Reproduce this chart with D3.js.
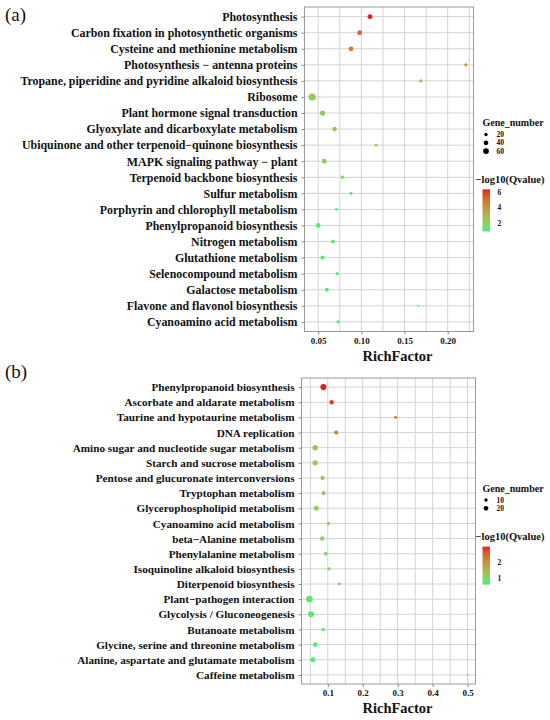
<!DOCTYPE html>
<html>
<head>
<meta charset="utf-8">
<script src="https://cdn.jsdelivr.net/npm/d3@7"></script>
<style>
  body { margin: 0; background: #fff; }
  text { font-family: "Liberation Serif", "Times New Roman", serif; fill: #111; }
  .lab { font-weight: bold; }
</style>
</head>
<body>
<div id="chart"></div>
<script>
// panel (a)
var pathwaysA = ["Photosynthesis", "Carbon fixation in photosynthetic organisms",
  "Cysteine and methionine metabolism", "Photosynthesis \u2212 antenna proteins",
  "Tropane, piperidine and pyridine alkaloid biosynthesis", "Ribosome",
  "Plant hormone signal transduction", "Glyoxylate and dicarboxylate metabolism",
  "Ubiquinone and other terpenoid\u2212quinone biosynthesis", "MAPK signaling pathway \u2212 plant",
  "Terpenoid backbone biosynthesis", "Sulfur metabolism", "Porphyrin and chlorophyll metabolism",
  "Phenylpropanoid biosynthesis", "Nitrogen metabolism", "Glutathione metabolism",
  "Selenocompound metabolism", "Galactose metabolism", "Flavone and flavonol biosynthesis",
  "Cyanoamino acid metabolism"];
var richA = [0.110, 0.098, 0.088, 0.221, 0.169, 0.043, 0.055, 0.069, 0.117, 0.057,
  0.078, 0.088, 0.071, 0.050, 0.067, 0.055, 0.072, 0.060, 0.166, 0.073];
var genesA = [44, 42, 40, 18, 17, 90, 50, 38, 16, 42, 22, 17, 14, 40, 25, 32, 18, 26, 6, 17];
var qvalA = [6.35, 5.3, 4.7, 3.9, 3.1, 2.5, 2.4, 2.3, 2.4, 2.2, 1.7, 1.25, 1.2, 1.1,
  1.1, 1.05, 1.0, 1.0, 0.95, 0.92];
var xTicksA = [0.05, 0.10, 0.15, 0.20];
var sizeBreaksA = [20, 40, 60];
var colorBreaksA = [2, 4, 6];

// panel (b)
var pathwaysB = ["Phenylpropanoid biosynthesis", "Ascorbate and aldarate metabolism",
  "Taurine and hypotaurine metabolism", "DNA replication",
  "Amino sugar and nucleotide sugar metabolism", "Starch and sucrose metabolism",
  "Pentose and glucuronate interconversions", "Tryptophan metabolism",
  "Glycerophospholipid metabolism", "Cyanoamino acid metabolism", "beta\u2212Alanine metabolism",
  "Phenylalanine metabolism", "Isoquinoline alkaloid biosynthesis", "Diterpenoid biosynthesis",
  "Plant\u2212pathogen interaction", "Glycolysis / Gluconeogenesis", "Butanoate metabolism",
  "Glycine, serine and threonine metabolism", "Alanine, aspartate and glutamate metabolism",
  "Caffeine metabolism"];
var richB = [0.0875, 0.111, 0.294, 0.124, 0.064, 0.064, 0.085, 0.088, 0.067, 0.102,
  0.084, 0.094, 0.103, 0.133, 0.0474, 0.052, 0.087, 0.064, 0.057, 0.5];
var genesB = [34, 19, 8, 17, 26, 26, 17, 15, 23, 11, 19, 14, 11, 8, 40, 34, 11, 19, 23, 3];
var qvalB = [2.98, 2.8, 2.3, 2.15, 1.3, 1.25, 1.15, 1.15, 1.1, 1.05, 1.1, 1.0, 0.95,
  0.9, 0.8, 0.75, 0.7, 0.65, 0.65, 0.6];
var xTicksB = [0.1, 0.2, 0.3, 0.4, 0.5];
var sizeBreaksB = [10, 20];
var colorBreaksB = [1, 2];

var width = 550, height = 720;
var lowColor = "#3ff07a", highColor = "#e3201c";

var svg = d3.select("#chart").append("svg")
  .attr("width", width).attr("height", height);

function panel(cfg) {
  var g = svg.append("g");
  var rows = cfg.pathways.map(function(p, i) {
    return {name: p, rich: cfg.rich[i], genes: cfg.genes[i], q: cfg.qval[i]};
  });

  // x domain with 5% expansion like ggplot
  var ext = d3.extent(cfg.rich);
  var pad = (ext[1] - ext[0]) * 0.05;
  var x = d3.scaleLinear().domain([ext[0] - pad, ext[1] + pad])
    .range([cfg.left, cfg.right]);
  var y = d3.scalePoint().domain(cfg.pathways)
    .range([cfg.top, cfg.bottom]).padding(0.6);
  var color = d3.scaleLinear().domain(d3.extent(cfg.qval))
    .range([lowColor, highColor]).interpolate(d3.interpolateLab);
  var size = d3.scaleSqrt().domain([0, d3.max(cfg.genes)]).range([0, cfg.rMax]);

  g.append("rect").attr("x", cfg.left).attr("y", cfg.top)
    .attr("width", cfg.right - cfg.left).attr("height", cfg.bottom - cfg.top)
    .attr("fill", "#fff");

  // grid: major + minor vertical lines
  var step = cfg.xTicks[1] - cfg.xTicks[0];
  var dom = x.domain();
  var vgrid = d3.range(cfg.xTicks[0] - step, cfg.xTicks[cfg.xTicks.length - 1] + step, step / 2)
    .filter(function(v) { return v > dom[0] && v < dom[1]; });
  g.selectAll(".vg").data(vgrid).enter().append("line")
    .attr("x1", function(d) { return x(d); }).attr("x2", function(d) { return x(d); })
    .attr("y1", cfg.top).attr("y2", cfg.bottom)
    .attr("stroke", "#d3d3d3").attr("stroke-width", 1);
  g.selectAll(".hg").data(cfg.pathways).enter().append("line")
    .attr("x1", cfg.left).attr("x2", cfg.right)
    .attr("y1", function(d) { return y(d); }).attr("y2", function(d) { return y(d); })
    .attr("stroke", "#d3d3d3").attr("stroke-width", 1);

  g.selectAll(".dot").data(rows).enter().append("circle")
    .attr("cx", function(d) { return x(d.rich); })
    .attr("cy", function(d) { return y(d.name); })
    .attr("r", function(d) { return size(d.genes); })
    .attr("fill", function(d) { return color(d.q); });

  g.append("rect").attr("x", cfg.left).attr("y", cfg.top)
    .attr("width", cfg.right - cfg.left).attr("height", cfg.bottom - cfg.top)
    .attr("fill", "none").attr("stroke", "#9a9a9a").attr("stroke-width", 1);

  // y axis
  var yAxis = g.append("g").attr("transform", "translate(" + cfg.left + ",0)")
    .call(d3.axisLeft(y).tickSize(3).tickPadding(4));
  yAxis.select(".domain").remove();
  yAxis.selectAll("line").attr("stroke", "#8a8a8a");
  yAxis.selectAll("text").attr("class", "lab")
    .style("font-size", cfg.yFont + "px").attr("fill", "#111");

  // x axis
  var xAxis = g.append("g").attr("transform", "translate(0," + cfg.bottom + ")")
    .call(d3.axisBottom(x).tickValues(cfg.xTicks).tickSize(3).tickPadding(3)
      .tickFormat(cfg.xFormat));
  xAxis.select(".domain").remove();
  xAxis.selectAll("line").attr("stroke", "#8a8a8a");
  xAxis.selectAll("text").attr("class", "lab")
    .style("font-size", "9px").attr("fill", "#111");

  g.append("text").attr("class", "lab")
    .attr("x", 397.5).attr("y", cfg.bottom + 29)
    .attr("text-anchor", "middle").style("font-size", "14.5px")
    .text("RichFactor");

  g.append("text").attr("x", 5).attr("y", cfg.top + cfg.tagDy)
    .style("font-size", "19px").text(cfg.tag);

  // legend: Gene_number
  var lg = g.append("g").attr("transform", "translate(" + cfg.legX + "," + cfg.legY + ")");
  lg.append("text").attr("class", "lab").attr("x", 0).attr("y", 0)
    .style("font-size", "10px").text("Gene_number");
  lg.selectAll(".sb").data(cfg.sizeBreaks).enter().append("circle")
    .attr("cx", 3.5).attr("cy", function(d, i) { return 8.5 + i * 8.3; })
    .attr("r", function(d) { return size(d); }).attr("fill", "#000");
  lg.selectAll(".st").data(cfg.sizeBreaks).enter().append("text")
    .attr("class", "lab").attr("x", 14)
    .attr("y", function(d, i) { return 8.5 + i * 8.3; }).attr("dy", "0.35em")
    .style("font-size", "7.5px").text(function(d) { return d; });

  // legend: colour bar
  var cy0 = cfg.sizeBreaks.length * 8.3 + 32;
  lg.append("text").attr("class", "lab").attr("x", -7).attr("y", cy0)
    .style("font-size", "10.5px").text("\u2212log10(Qvalue)");
  var gradId = "grad" + cfg.tag.replace(/\W/g, "");
  var grad = svg.append("defs").append("linearGradient").attr("id", gradId)
    .attr("x1", 0).attr("y1", 1).attr("x2", 0).attr("y2", 0);
  d3.range(0, 1.0001, 0.1).forEach(function(t) {
    var cd = color.domain();
    grad.append("stop").attr("offset", t)
      .attr("stop-color", color(cd[0] + t * (cd[1] - cd[0])));
  });
  var barTop = cy0 + 6.5, barH = cfg.barH;
  var cbar = d3.scaleLinear().domain(color.domain()).range([barTop + barH, barTop]);
  lg.append("rect").attr("x", 0).attr("y", barTop).attr("width", 7.5).attr("height", barH)
    .attr("fill", "url(#" + gradId + ")");
  lg.selectAll(".cb").data(cfg.colorBreaks).enter().append("text")
    .attr("class", "lab").attr("x", 15)
    .attr("y", function(d) { return cbar(d); }).attr("dy", "0.35em")
    .style("font-size", "7.5px").text(function(d) { return d; });
}

panel({
  tag: "(a)", pathways: pathwaysA, rich: richA, genes: genesA, qval: qvalA,
  xTicks: xTicksA, sizeBreaks: sizeBreaksA, colorBreaks: colorBreaksA,
  xFormat: d3.format(".2f"),
  left: 304.5, right: 473.5, top: 7, bottom: 331.5, rMax: 3.55, yFont: 11.9,
  tagDy: 13.5, legX: 482.5, legY: 126, barH: 42
});

panel({
  tag: "(b)", pathways: pathwaysB, rich: richB, genes: genesB, qval: qvalB,
  xTicks: xTicksB, sizeBreaks: sizeBreaksB, colorBreaks: colorBreaksB,
  xFormat: d3.format(".1f"),
  left: 301.5, right: 475.5, top: 378, bottom: 684, rMax: 3.3, yFont: 11.2,
  tagDy: 0, legX: 482.5, legY: 491.5, barH: 38
});
</script>
</body>
</html>
